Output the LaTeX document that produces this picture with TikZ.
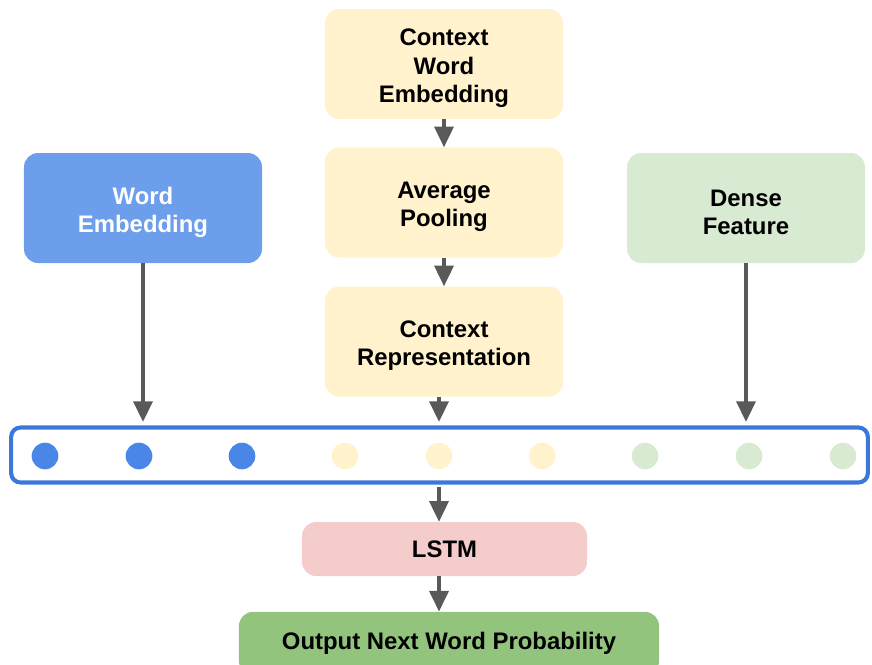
\documentclass[tikz,border=0pt]{standalone}
\usepackage{fontspec}
\setmainfont{Liberation Sans}
\usetikzlibrary{arrows.meta, positioning}
\definecolor{boxblue}{HTML}{6D9EEB}
\definecolor{dotblue}{HTML}{4A86E8}
\definecolor{barblue}{HTML}{3C78D8}
\definecolor{ctxyellow}{HTML}{FFF2CC}
\definecolor{densegreen}{HTML}{D9EAD3}
\definecolor{lstmpink}{HTML}{F4CCCC}
\definecolor{outgreen}{HTML}{93C47D}
\definecolor{arrowgray}{HTML}{595959}
\newcommand{\lift}{\rule{0pt}{21.5pt}}

\begin{document}
\begin{tikzpicture}[
    x=0.03cm, y=-0.03cm,
    box/.style={
        rectangle, rounded corners=12pt,
        align=center, inner sep=0pt,
        font=\fontsize{20.4}{24}\selectfont\bfseries
    },
    tallbox/.style={box, minimum width=7.14cm, minimum height=3.3cm},
    dot/.style={circle, minimum size=0.8cm, inner sep=0pt},
    arrow/.style={
        -{Triangle[width=0.57cm, length=0.62cm]},
        draw=arrowgray, line width=3pt
    }
]
\clip (0,0) rectangle (872,664);

% context branch
\node[tallbox, fill=ctxyellow] (ctx) at (444,64) {\lift Context\\Word\\Embedding};
\node[tallbox, fill=ctxyellow] (pool) at (444,202.5) {\lift Average\\Pooling};
\node[tallbox, fill=ctxyellow] (rep) at (444,341.5) {\lift Context\\Representation};

% side inputs
\node[tallbox, fill=boxblue, text=white] (wemb) at (143,208) {\lift Word\\Embedding};
\node[tallbox, fill=densegreen] (dense) at (746,208) {\lift Dense\\Feature};

% concatenated vector
\node[draw=barblue, line width=3.5pt, rounded corners=8pt,
      minimum width=25.7cm, minimum height=1.65cm] (bar) at (439.5,455) {};
\foreach \i/\px/\col in {1/45/dotblue, 2/139/dotblue, 3/242/dotblue,
                         4/345/ctxyellow, 5/439/ctxyellow, 6/542/ctxyellow,
                         7/645/densegreen, 8/749/densegreen, 9/843/densegreen}
    \node[dot, fill=\col] (d\i) at (\px,456) {};

\node[box, fill=lstmpink, minimum width=8.55cm, minimum height=1.62cm] (lstm) at (444.5,549) {LSTM};
\node[box, fill=outgreen, minimum width=12.6cm, minimum height=1.9cm] (out) at (449,643.5) {Output Next Word Probability};

\draw[arrow] (ctx.south) -- (pool.north);
\draw[arrow] (pool.south) -- (rep.north);
\draw[arrow, shorten >=3pt] (rep.south -| d5) -- (d5 |- bar.north);
\draw[arrow, shorten >=3pt] (wemb.south) -- (wemb.south |- bar.north);
\draw[arrow, shorten >=3pt] (dense.south) -- (dense.south |- bar.north);
\draw[arrow, shorten <=2pt] (bar.south -| d5) -- (d5 |- lstm.north);
\draw[arrow] (lstm.south -| d5) -- (d5 |- out.north);

\end{tikzpicture}
\end{document}
